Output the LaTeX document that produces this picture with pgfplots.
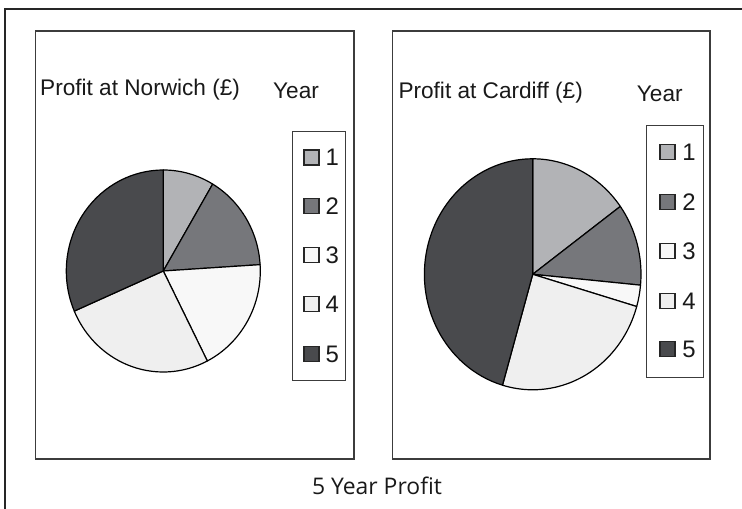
\documentclass[border=0pt]{standalone}
\usepackage{fontspec}
\setmainfont{Liberation Sans}
\newfontfamily\comicfont{Open Sans}
\usepackage{pgfplots}
\usepackage{pgfplotstable}
\pgfplotsset{compat=1.18}
\definecolor{slice1}{RGB}{178,179,182}
\definecolor{slice2}{RGB}{118,119,123}
\definecolor{slice3}{RGB}{248,248,248}
\definecolor{slice4}{RGB}{239,239,239}
\definecolor{slice5}{RGB}{73,74,77}
\definecolor{frame}{RGB}{60,60,60}

\pgfplotstableread{
year value
1 8.5
2 15.5
3 18.5
4 26
5 31.5
}\norwich
\pgfplotstableread{
year value
1 15
2 11.5
3 3
4 25
5 45.5
}\cardiff

% pie slices from a table (percent), clockwise from 12 o'clock
% #1 table, #2 centre x, #3 centre y, #4 x radius, #5 y radius (axis units = bp)
\newcommand\pieslices[5]{%
  \pgfplotstablegetrowsof{#1}%
  \pgfmathtruncatemacro\pnrows{\pgfplotsretval-1}%
  \def\pcum{0}%
  \pgfplotsforeachungrouped \pidx in {0,...,\pnrows}{%
    \pgfplotstablegetelem{\pidx}{value}\of{#1}%
    \let\pval\pgfplotsretval
    \pgfmathsetmacro\pstart{90-3.6*\pcum}%
    \pgfmathsetmacro\pend{90-3.6*(\pcum+\pval)}%
    \pgfmathsetmacro\pcum{\pcum+\pval}%
    \pgfmathsetmacro\px{#2+#4*cos(\pstart)}%
    \pgfmathsetmacro\py{#3+#5*sin(\pstart)}%
    \pgfmathtruncatemacro\pk{\pidx+1}%
    \edef\ptemp{\noexpand\filldraw[draw=black,line width=1.2bp,line join=round,fill=slice\pk] (axis cs:#2,#3) -- (axis cs:\px,\py) arc[start angle=\pstart,end angle=\pend,x radius=#4bp,y radius=#5bp] -- cycle;}%
    \ptemp
  }%
}

\begin{document}
\begin{tikzpicture}[x=1bp,y=1bp]
\useasboundingbox (0,0) rectangle (742,509);
% outer frame (cut at right and bottom)
\draw[line width=2bp,black!85] (5,0) -- (5,499.5) -- (742,499.5);
% panels
\draw[line width=1.3bp,frame] (35.7,50) rectangle (354,478);
\draw[line width=1.3bp,frame] (392.7,50) rectangle (710,478);

% pies, in one axis whose units are the picture's
\begin{axis}[hide axis, x=1bp, y=1bp, xmin=0, xmax=742, ymin=0, ymax=509,
  anchor=south west, at={(0,0)}, clip=false]
  \pieslices{\norwich}{163.3}{238}{97}{101}
  \pieslices{\cardiff}{532.7}{234.7}{108.3}{115.5}
\end{axis}

% titles
\node[anchor=base west,inner sep=0pt,text=black!90,font=\fontsize{22.7}{26}\selectfont] at (40,413) {Profit at Norwich (£)};
\node[anchor=base west,inner sep=0pt,text=black!90,font=\fontsize{22.7}{26}\selectfont] at (273,410) {Year};
\node[anchor=base west,inner sep=0pt,text=black!90,font=\fontsize{22.7}{26}\selectfont] at (398.3,410) {Profit at Cardiff (£)};
\node[anchor=base west,inner sep=0pt,text=black!90,font=\fontsize{22.7}{26}\selectfont] at (636.7,407.3) {Year};

% legends
\draw[line width=1bp,frame] (292.3,377.3) rectangle (345.7,128);
\foreach \k/\yc in {1/157.5,2/205.8,3/255,4/304,5/354}{
  \draw[line width=1.2bp,black!85,fill=slice\k] (304,{509-\yc-7.5}) rectangle (319,{509-\yc+7.5});
  \node[anchor=base west,inner sep=0pt,text=black!90,font=\fontsize{24}{28}\selectfont] at (325.5,{509-\yc-8.5}) {\k};
}
\draw[line width=1bp,frame] (646.7,383.3) rectangle (703.3,131);
\foreach \k/\yc in {1/151.7,2/201.7,3/250.7,4/300.7,5/349}{
  \draw[line width=1.2bp,black!85,fill=slice\k] (660,{509-\yc-7.5}) rectangle (675,{509-\yc+7.5});
  \node[anchor=base west,inner sep=0pt,text=black!90,font=\fontsize{24}{28}\selectfont] at (682.2,{509-\yc-8.5}) {\k};
}

% caption
\node[anchor=base,inner sep=0pt,text=black!90,font=\comicfont\fontsize{23}{27}\selectfont] at (377,14) {5 Year Profit};
\end{tikzpicture}
\end{document}
